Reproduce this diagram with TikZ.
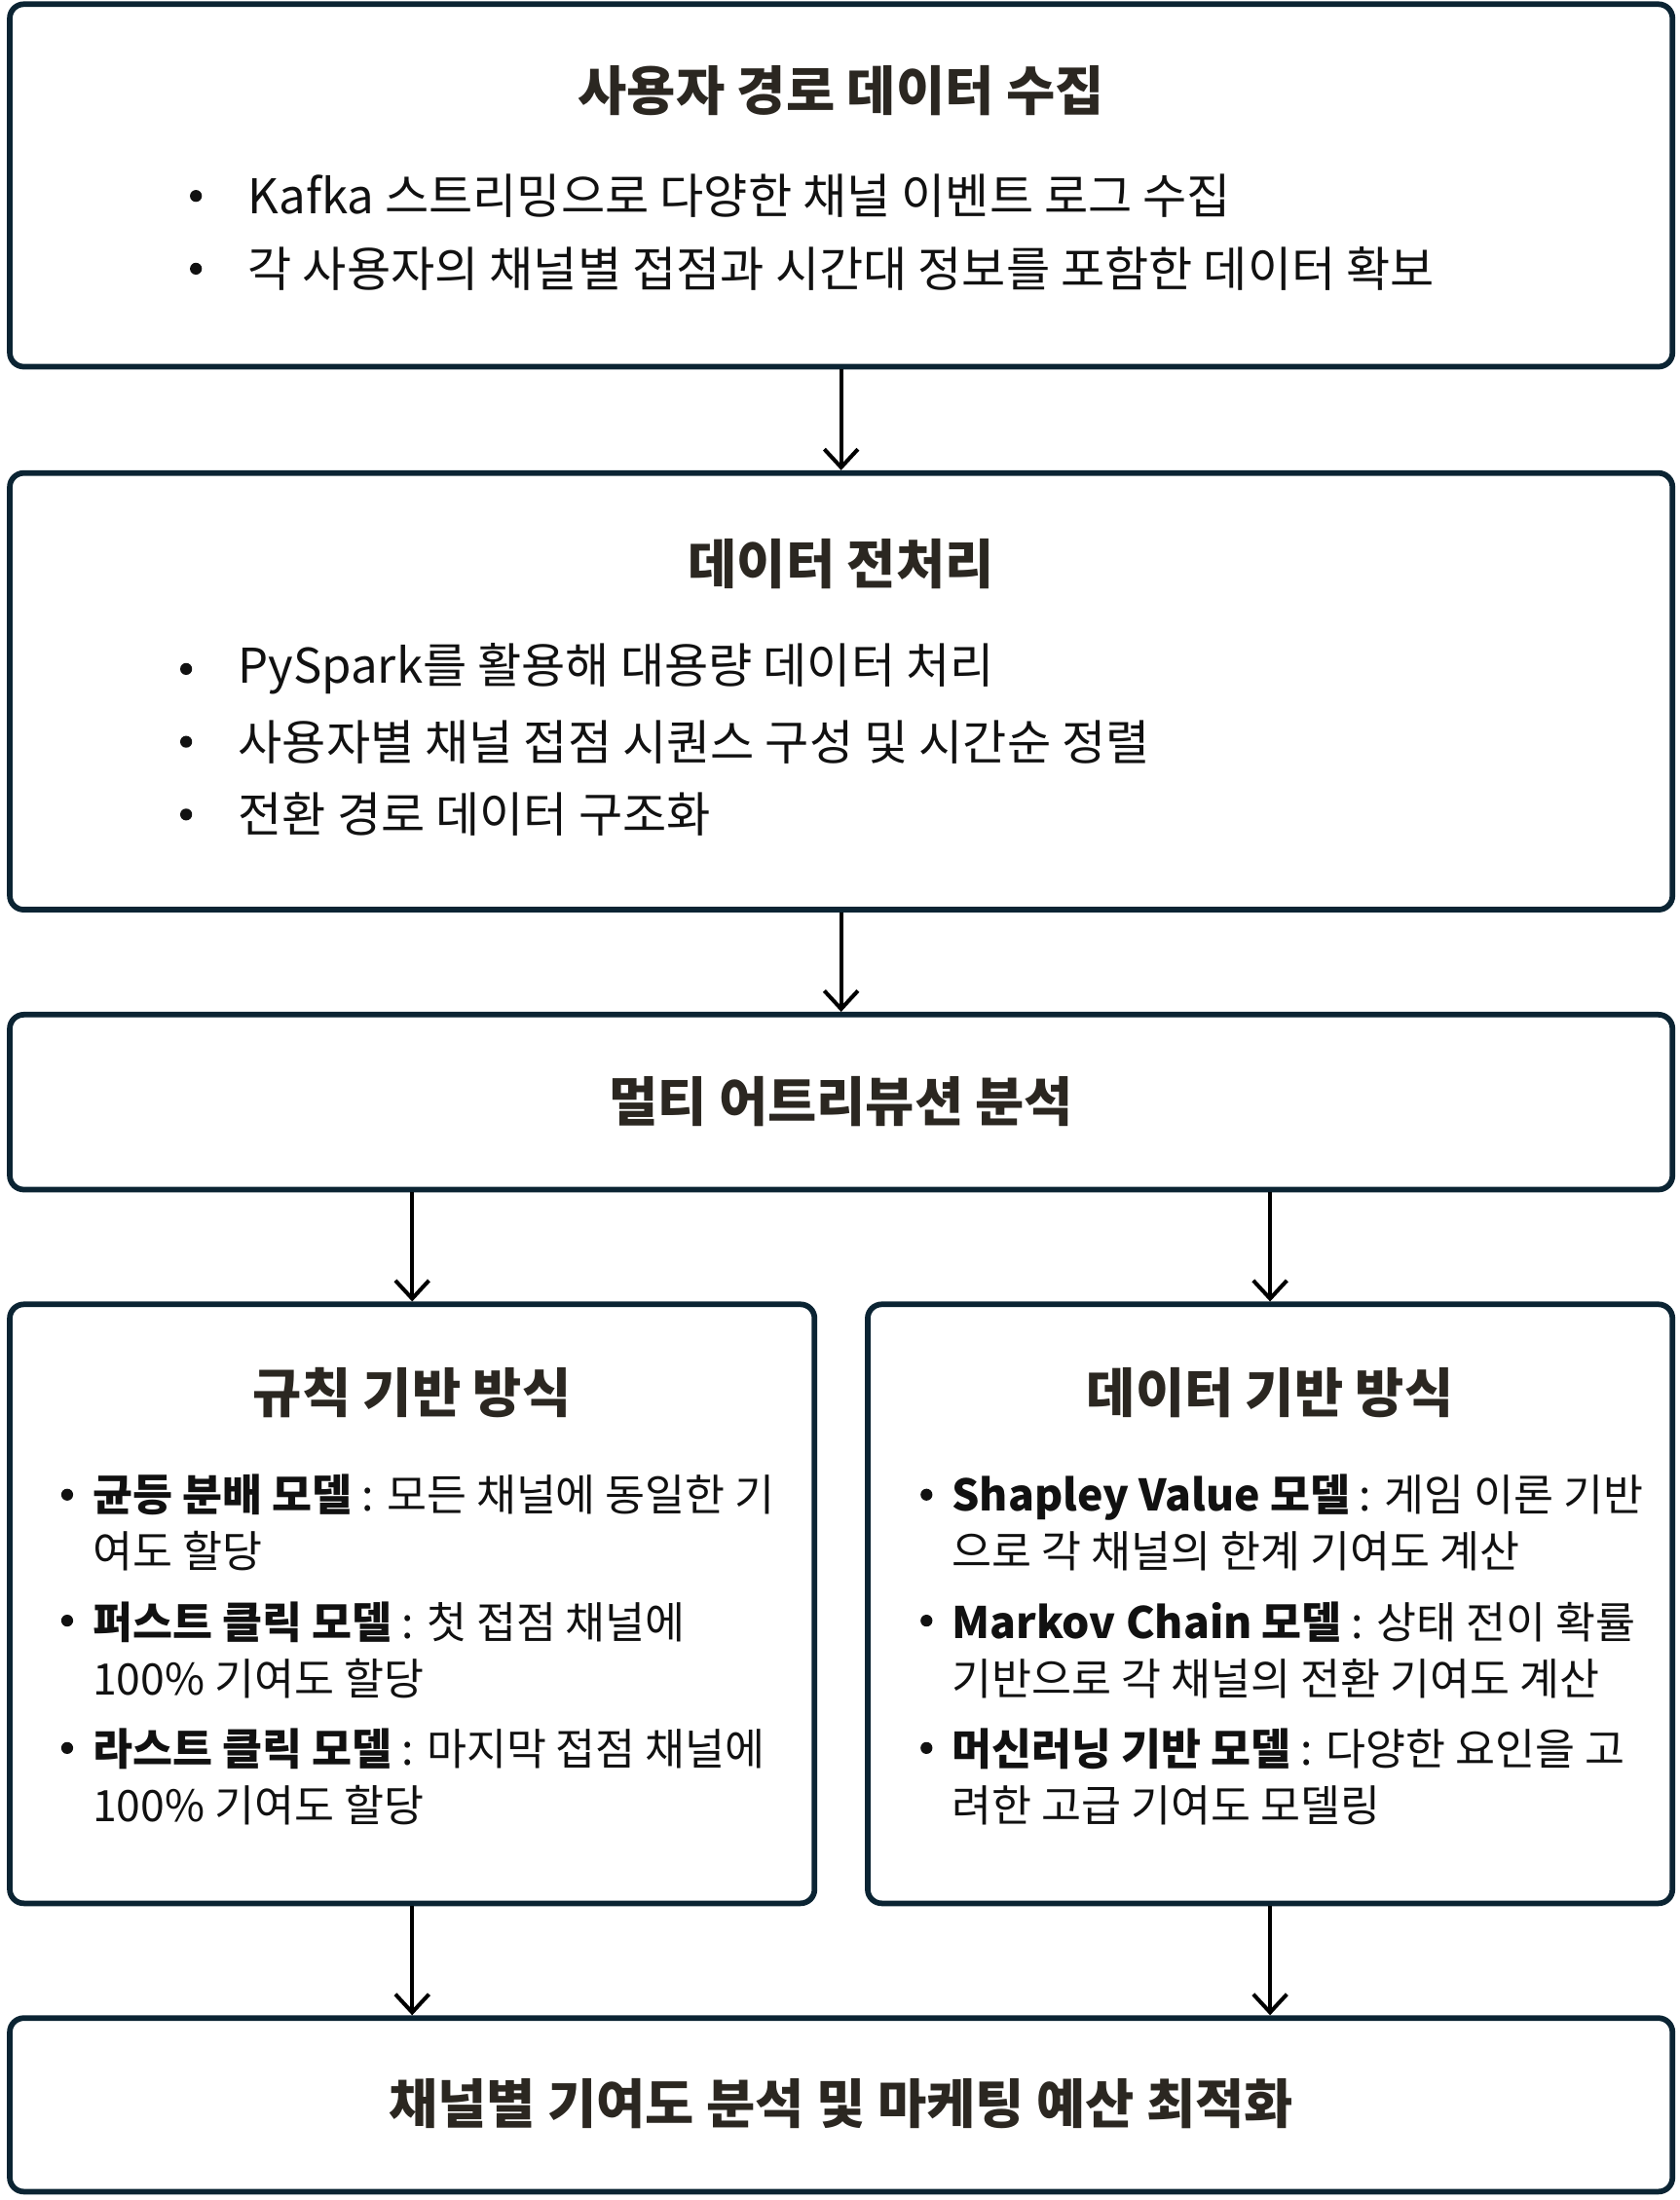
\documentclass[tikz,border=0pt]{standalone}
\usepackage{fontspec}
\setmainfont{Noto Sans CJK KR}
\usetikzlibrary{arrows.meta}
\definecolor{BoxNavy}{HTML}{0B2433}
\definecolor{TitleInk}{HTML}{2B2721}
\definecolor{BodyInk}{HTML}{111111}
\tikzset{
	stagebox/.style={draw=BoxNavy, line width=4pt, rounded corners=10pt, inner sep=0pt},
	stagetitle/.style={text=TitleInk, font=\fontsize{38}{44}\selectfont\bfseries, inner sep=0pt},
	bodytext/.style={text=BodyInk, font=\fontsize{34.2}{40}\selectfont, anchor=west, inner sep=0pt},
	itemtext/.style={text=BodyInk, font=\fontsize{31}{40}\selectfont, anchor=west, align=left, inner sep=0pt},
	bulletdot/.style={circle, fill=BodyInk, inner sep=0pt, minimum size=8.5pt},
	flow/.style={line width=2.8pt, -{Straight Barb[length=13pt,width=24pt]}}
}
\begin{document}
\begin{tikzpicture}[x=1pt,y=1pt,yscale=-1,xscale=1]
		\useasboundingbox (0,0) rectangle (1200,1572);

		% Draw the stage boxes
		\node[stagebox, minimum width=1188, minimum height=259] (collect) at (601,132.5) {};
		\node[stagebox, minimum width=1188, minimum height=312] (prep) at (601,494) {};
		\node[stagebox, minimum width=1188, minimum height=125] (mta) at (601,787.5) {};
		\node[stagebox, minimum width=575, minimum height=428] (rulebased) at (294.5,1146) {};
		\node[stagebox, minimum width=575, minimum height=428] (datadriven) at (907.5,1146) {};
		\node[stagebox, minimum width=1188, minimum height=124] (budget) at (601,1504) {};

		% Titles of the stages
		\node[stagetitle] (collect-title) at (601,65) {사용자 경로 데이터 수집};
		\node[stagetitle] (prep-title) at (601,403) {데이터 전처리};
		\node[stagetitle] (mta-title) at (601,787) {멀티 어트리뷰션 분석};
		\node[stagetitle] (rulebased-title) at (294.5,995) {규칙 기반 방식};
		\node[stagetitle] (datadriven-title) at (907.5,995) {데이터 기반 방식};
		\node[stagetitle] (budget-title) at (601,1503) {채널별 기여도 분석 및 마케팅 예산 최적화};

		% Bullets of the collection stage
		\node[bulletdot] (collect-dot1) at (140,140) {};
		\node[bulletdot] (collect-dot2) at (140,192) {};
		\node[bodytext] (collect-item1) at (177,140) {Kafka 스트리밍으로 다양한 채널 이벤트 로그 수집};
		\node[bodytext] (collect-item2) at (177,192) {각 사용자의 채널별 접점과 시간대 정보를 포함한 데이터 확보};

		% Bullets of the preprocessing stage
		\node[bulletdot] (prep-dot1) at (133,478) {};
		\node[bulletdot] (prep-dot2) at (133,530) {};
		\node[bulletdot] (prep-dot3) at (133,582) {};
		\node[bodytext] (prep-item1) at (170,478) {PySpark를 활용해 대용량 데이터 처리};
		\node[bodytext] (prep-item2) at (170,530) {사용자별 채널 접점 시퀀스 구성 및 시간순 정렬};
		\node[bodytext] (prep-item3) at (170,582) {전환 경로 데이터 구조화};

		% Rule based models (left)
		\node[bulletdot] (rule-dot1) at (48,1068) {};
		\node[bulletdot] (rule-dot2) at (48,1158) {};
		\node[bulletdot] (rule-dot3) at (48,1249) {};
		\node[itemtext] (rule-item1) at (66,1088) {\textbf{균등 분배 모델} : 모든 채널에 동일한 기\\여도 할당};
		\node[itemtext] (rule-item2) at (66,1179) {\textbf{퍼스트 클릭 모델} : 첫 접점 채널에\\100\% 기여도 할당};
		\node[itemtext] (rule-item3) at (66,1269.5) {\textbf{라스트 클릭 모델} : 마지막 접점 채널에\\100\% 기여도 할당};

		% Data driven models (right)
		\node[bulletdot] (data-dot1) at (662,1068) {};
		\node[bulletdot] (data-dot2) at (662,1158) {};
		\node[bulletdot] (data-dot3) at (662,1249) {};
		\node[itemtext] (data-item1) at (680,1088) {\textbf{Shapley Value 모델} : 게임 이론 기반\\으로 각 채널의 한계 기여도 계산};
		\node[itemtext] (data-item2) at (680,1179) {\textbf{Markov Chain 모델} : 상태 전이 확률\\기반으로 각 채널의 전환 기여도 계산};
		\node[itemtext] (data-item3) at (680,1269.5) {\textbf{머신러닝 기반 모델} : 다양한 요인을 고\\려한 고급 기여도 모델링};

		% Connectors between the stages
		\draw[flow] (collect.south) -- (prep.north);
		\draw[flow] (prep.south) -- (mta.north);
		\draw[flow] (mta.south -| rulebased.north) -- (rulebased.north);
		\draw[flow] (mta.south -| datadriven.north) -- (datadriven.north);
		\draw[flow] (rulebased.south) -- (budget.north -| rulebased.south);
		\draw[flow] (datadriven.south) -- (budget.north -| datadriven.south);
	\end{tikzpicture}
\end{document}
